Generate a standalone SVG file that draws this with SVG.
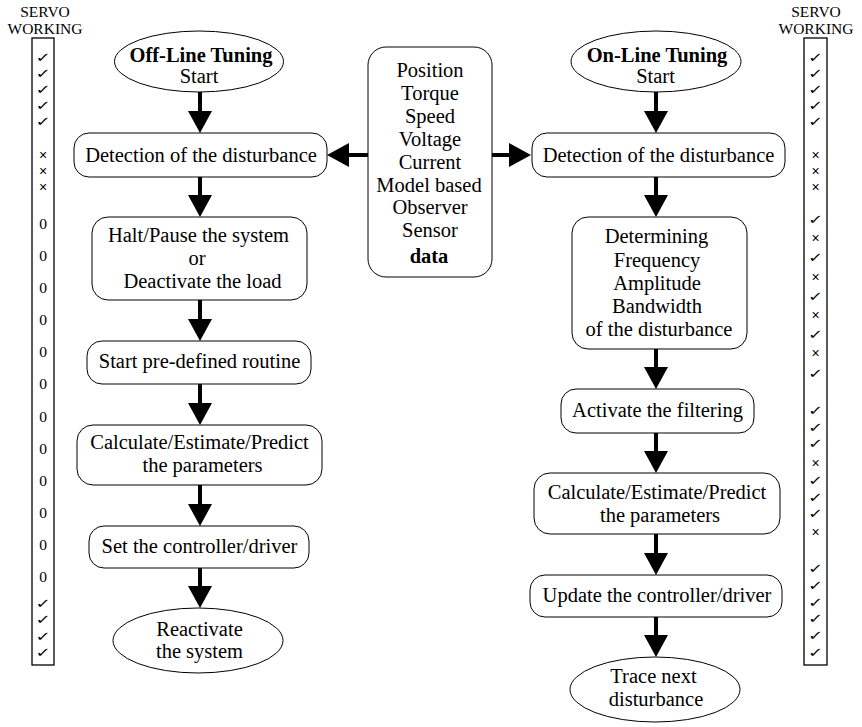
<svg xmlns="http://www.w3.org/2000/svg" width="862" height="727" viewBox="0 0 862 727">
<defs>
<style>
.t{font-family:"Liberation Serif","Times New Roman",serif;font-size:20.5px;fill:#000;text-anchor:middle}
.b{font-weight:bold}
.s{font-family:"Liberation Serif","Times New Roman",serif;font-size:15.5px;fill:#000;text-anchor:middle}
.box{fill:#fff;stroke:#000;stroke-width:1}
.bar{fill:#fff;stroke:#000;stroke-width:1.3}
.ck{font-family:"DejaVu Sans",sans-serif;font-size:13px;fill:#000;text-anchor:middle}
.x{font-family:"Liberation Sans",Arial,sans-serif;font-size:14px;fill:#000;text-anchor:middle}
.z{font-family:"Liberation Serif","Times New Roman",serif;font-size:15.5px;fill:#000;text-anchor:middle}
.ar{stroke:#000;stroke-width:4;fill:none;marker-end:url(#ah)}
</style>
<marker id="ah" viewBox="0 0 22 24" refX="12" refY="12" markerWidth="22" markerHeight="24" markerUnits="userSpaceOnUse" orient="auto">
<path d="M0,0 L22,12 L0,24 Z" fill="#000"/>
</marker>
</defs>
<rect width="862" height="727" fill="#fff"/>

<g id="servo-left">
<text class="s" x="45" y="17">SERVO</text>
<text class="s" x="45" y="34">WORKING</text>
<rect class="bar" x="32" y="38" width="22" height="627"/>
<g class="ck" transform="translate(43,0) scale(1.4,1)">
<text x="0" y="62">✓</text><text x="0" y="78">✓</text><text x="0" y="94">✓</text><text x="0" y="110">✓</text><text x="0" y="126">✓</text>
<text x="0" y="608">✓</text><text x="0" y="624">✓</text><text x="0" y="641">✓</text><text x="0" y="657">✓</text>
</g>
<g class="x">
<text x="43" y="160">×</text><text x="43" y="176">×</text><text x="43" y="192">×</text>
</g>
<g class="z">
<text x="43" y="229">0</text><text x="43" y="261">0</text><text x="43" y="293">0</text><text x="43" y="325">0</text><text x="43" y="357">0</text><text x="43" y="389">0</text>
<text x="43" y="422">0</text><text x="43" y="454">0</text><text x="43" y="486">0</text><text x="43" y="518">0</text><text x="43" y="550">0</text><text x="43" y="582">0</text>
</g>
</g>

<g id="servo-right">
<text class="s" x="816" y="17">SERVO</text>
<text class="s" x="816" y="34">WORKING</text>
<rect class="bar" x="804" y="38" width="23" height="627"/>
<g class="ck" transform="translate(815.5,0) scale(1.4,1)">
<text x="0" y="62">✓</text><text x="0" y="78">✓</text><text x="0" y="94">✓</text><text x="0" y="110">✓</text><text x="0" y="126">✓</text>
<text x="0" y="224">✓</text><text x="0" y="262">✓</text><text x="0" y="301">✓</text><text x="0" y="339">✓</text><text x="0" y="378">✓</text>
<text x="0" y="415">✓</text><text x="0" y="432">✓</text><text x="0" y="448">✓</text>
<text x="0" y="485">✓</text><text x="0" y="502">✓</text><text x="0" y="518">✓</text>
<text x="0" y="573">✓</text><text x="0" y="590">✓</text><text x="0" y="607">✓</text><text x="0" y="623">✓</text><text x="0" y="640">✓</text><text x="0" y="657">✓</text>
</g>
<g class="x">
<text x="815.5" y="160">×</text><text x="815.5" y="176">×</text><text x="815.5" y="192">×</text>
<text x="815.5" y="243">×</text><text x="815.5" y="282">×</text><text x="815.5" y="320">×</text><text x="815.5" y="358">×</text>
<text x="815.5" y="468">×</text><text x="815.5" y="537">×</text>
</g>
</g>

<g id="connectors">
<line class="ar" x1="200" y1="92" x2="200" y2="123"/>
<line class="ar" x1="200" y1="177" x2="200" y2="207"/>
<line class="ar" x1="200" y1="300" x2="200" y2="331"/>
<line class="ar" x1="200" y1="384" x2="200" y2="415"/>
<line class="ar" x1="200" y1="485" x2="200" y2="516"/>
<line class="ar" x1="200" y1="568" x2="200" y2="598"/>
<line class="ar" x1="368" y1="155" x2="337" y2="155"/>
<line class="ar" x1="492" y1="155" x2="521" y2="155"/>
<line class="ar" x1="656" y1="92" x2="656" y2="123"/>
<line class="ar" x1="656" y1="177" x2="656" y2="207"/>
<line class="ar" x1="656" y1="349" x2="656" y2="379"/>
<line class="ar" x1="656" y1="433" x2="656" y2="463"/>
<line class="ar" x1="656" y1="534" x2="656" y2="565"/>
<line class="ar" x1="656" y1="617" x2="656" y2="647"/>
</g>

<g id="offline-start">
<ellipse class="box" cx="199" cy="61.5" rx="84.5" ry="30.5"/>
<text class="t b" x="201" y="62">Off-Line Tuning</text>
<text class="t" x="199" y="83">Start</text>
</g>
<g id="offline-detect">
<rect class="box" x="74" y="133" width="253" height="44" rx="15"/>
<text class="t" x="201" y="162">Detection of the disturbance</text>
</g>
<g id="offline-halt">
<rect class="box" x="92" y="217" width="215" height="83" rx="16"/>
<text class="t" x="198.5" y="242">Halt/Pause the system</text>
<text class="t" x="197" y="265">or</text>
<text class="t" x="202.5" y="288">Deactivate the load</text>
</g>
<g id="offline-routine">
<rect class="box" x="87" y="341" width="224" height="43" rx="15"/>
<text class="t" x="199.5" y="368">Start pre-defined routine</text>
</g>
<g id="offline-calc">
<rect class="box" x="77" y="425" width="245" height="60" rx="16"/>
<text class="t" x="199.5" y="449">Calculate/Estimate/Predict</text>
<text class="t" x="202.5" y="472">the parameters</text>
</g>
<g id="offline-set">
<rect class="box" x="89" y="526" width="220" height="42" rx="15"/>
<text class="t" x="199.5" y="553">Set the controller/driver</text>
</g>
<g id="offline-end">
<ellipse class="box" cx="198" cy="640.5" rx="85" ry="32.5"/>
<text class="t" x="199.5" y="636">Reactivate</text>
<text class="t" x="199.5" y="658">the system</text>
</g>

<g id="data">
<rect class="box" x="368" y="47" width="124" height="230" rx="18"/>
<text class="t" x="430" y="77">Position</text>
<text class="t" x="430" y="100">Torque</text>
<text class="t" x="430" y="123">Speed</text>
<text class="t" x="430" y="146">Voltage</text>
<text class="t" x="430" y="169">Current</text>
<text class="t" x="429" y="192">Model based</text>
<text class="t" x="430" y="214">Observer</text>
<text class="t" x="430" y="237">Sensor</text>
<text class="t b" x="429" y="263">data</text>
</g>

<g id="online-start">
<ellipse class="box" cx="656" cy="61.5" rx="85" ry="30.5"/>
<text class="t b" x="657" y="62">On-Line Tuning</text>
<text class="t" x="655.5" y="83">Start</text>
</g>
<g id="online-detect">
<rect class="box" x="532" y="133" width="253" height="44" rx="15"/>
<text class="t" x="658.5" y="162">Detection of the disturbance</text>
</g>
<g id="online-determine">
<rect class="box" x="572" y="217" width="175" height="132" rx="16"/>
<text class="t" x="656.5" y="243">Determining</text>
<text class="t" x="657" y="267">Frequency</text>
<text class="t" x="657" y="290">Amplitude</text>
<text class="t" x="657" y="313">Bandwidth</text>
<text class="t" x="659" y="336">of the disturbance</text>
</g>
<g id="online-filter">
<rect class="box" x="561" y="389" width="193" height="44" rx="15"/>
<text class="t" x="657.5" y="417">Activate the filtering</text>
</g>
<g id="online-calc">
<rect class="box" x="534" y="473" width="246" height="61" rx="16"/>
<text class="t" x="657" y="499">Calculate/Estimate/Predict</text>
<text class="t" x="660" y="522">the parameters</text>
</g>
<g id="online-update">
<rect class="box" x="530" y="575" width="252" height="42" rx="15"/>
<text class="t" x="657" y="602">Update the controller/driver</text>
</g>
<g id="online-end">
<ellipse class="box" cx="655" cy="689.5" rx="85" ry="32.5"/>
<text class="t" x="653.5" y="683">Trace next</text>
<text class="t" x="656" y="706">disturbance</text>
</g>
</svg>
